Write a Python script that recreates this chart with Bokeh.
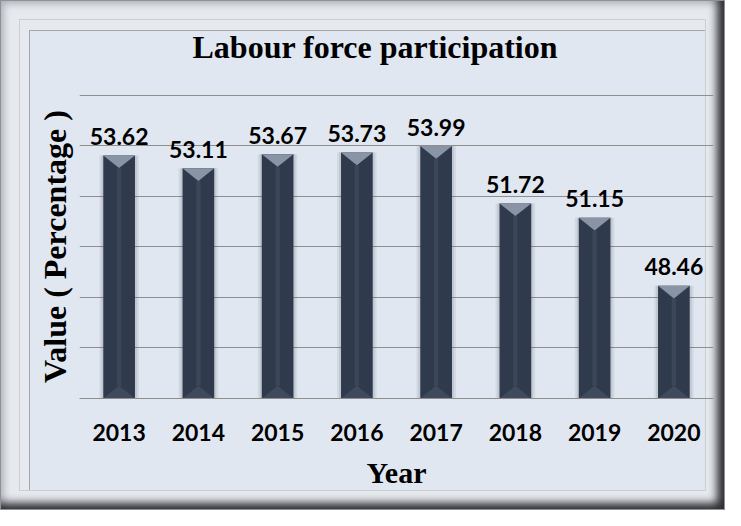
from bokeh.plotting import figure
from bokeh.models import Range1d, FixedTicker, Title, ColumnDataSource
from bokeh.core.properties import value
from bokeh.embed import file_html
from bokeh.resources import INLINE

# ---- data ----
years = ["2013", "2014", "2015", "2016", "2017", "2018", "2019", "2020"]
values = [53.62, 53.11, 53.67, 53.73, 53.99, 51.72, 51.15, 48.46]
y_grid_ticks = [44, 46, 48, 50, 52, 54, 56]
title_text = "Labour force participation"
x_title = "Year"
y_title = "Value ( Percentage )"

# ---- styles ----
W, H = 725, 510
PANEL = "#E1E7F0"
FLAT = "#E6E9EE"
BAR = "#2F3B4D"
BAR_TOP = "#8994A5"
BAR_BOTTOM = "#3F4A5C"
BAR_STRIPE = "#3A4659"
GRID = "#8E8E8E"
SERIF = "Liberation Serif"
SANS = "Lato"
Y0 = y_grid_ticks[0]
BAR_W = 0.4
BEVEL = 0.5  # bevel depth (data units)

idx = list(range(len(years)))

p = figure(width=W, height=H, output_backend="svg", toolbar_location=None,
           x_range=Range1d(-0.5, len(years) - 0.5),
           y_range=Range1d(y_grid_ticks[0], y_grid_ticks[-1] + 0.03),
           min_border_left=79, min_border_right=12,
           min_border_top=94, min_border_bottom=112)
p.background_fill_color = None
p.border_fill_color = None
p.outline_line_color = None

# picture-frame look painted behind the (transparent) canvas
p.styles = {
    "background-color": PANEL,
    "box-shadow": ", ".join([
        "inset 0 0 0 1px #8E9197",
        "inset -13px -12px 9px -5px rgba(35,36,40,0.95)",
        "inset 8px 8px 7px -4px rgba(160,164,172,0.8)",
        "inset 0 0 0 19px " + FLAT,
        "inset 0 0 0 20px #CBCED3",
        "inset 9px 10px 0 20px " + FLAT,
        "inset 9px 10px 0 21px #A3A8B0",
    ]),
}

# ---- bars ----
src = ColumnDataSource(dict(
    x=idx, top=values,
    bevel_top=[v - BEVEL for v in values],
    label=["%.2f" % v for v in values],
))
p.vbar(x="x", top="top", bottom=Y0, width=BAR_W + 0.1, source=src,
       fill_color="#5A6270", fill_alpha=0.10, line_color=None)
p.vbar(x="x", top="top", bottom=Y0, width=BAR_W + 0.05, source=src,
       fill_color="#5A6270", fill_alpha=0.15, line_color=None)
p.vbar(x="x", top="top", bottom=Y0, width=BAR_W, source=src,
       fill_color=BAR, line_color=None)
p.vbar(x="x", top="bevel_top", bottom=Y0 + BEVEL, width=0.055, source=src,
       fill_color=BAR_STRIPE, line_color=None)
p.patches(xs=[[i - BAR_W / 2, i + BAR_W / 2, i] for i in idx],
          ys=[[v, v, v - BEVEL] for v in values],
          fill_color=BAR_TOP, line_color=None)
p.patches(xs=[[i - BAR_W / 2, i + BAR_W / 2, i] for i in idx],
          ys=[[Y0, Y0, Y0 + BEVEL] for v in values],
          fill_color=BAR_BOTTOM, line_color=None)

p.text(x="x", y="top", text="label", source=src, text_font=value(SANS),
       text_font_style="bold", text_font_size="23px", text_color="black",
       text_align="center", text_baseline="alphabetic", y_offset=-19)

# ---- axes / grid ----
p.yaxis.visible = False
p.xgrid.visible = False
p.ygrid.ticker = FixedTicker(ticks=y_grid_ticks)
p.ygrid.grid_line_color = GRID
p.ygrid.grid_line_width = 1

xa = p.xaxis[0]
xa.ticker = FixedTicker(ticks=idx)
xa.major_label_overrides = {i: y for i, y in zip(idx, years)}
xa.major_label_text_font = SANS
xa.major_label_text_font_style = "bold"
xa.major_label_text_font_size = "23px"
xa.major_label_text_color = "black"
xa.major_label_standoff = 19
xa.major_tick_line_color = None
xa.minor_tick_line_color = None
xa.axis_line_color = GRID
xa.axis_label = x_title
xa.axis_label_text_font = SERIF
xa.axis_label_text_font_style = "bold"
xa.axis_label_text_font_size = "30px"
xa.axis_label_text_color = "black"
xa.axis_label_standoff = 12

p.title.text = title_text
p.title.text_font = SERIF
p.title.text_font_style = "bold"
p.title.text_font_size = "32px"
p.title.text_color = "black"
p.title.align = "left"
p.title.offset = 113
p.title.vertical_align = "top"
p.title.standoff = 55

p.add_layout(Title(text=y_title, align="center", text_font=SERIF, text_font_style="bold",
                   text_font_size="32px", text_color="black", standoff=14), "left")

open("out.html", "w").write(file_html(p, INLINE))
